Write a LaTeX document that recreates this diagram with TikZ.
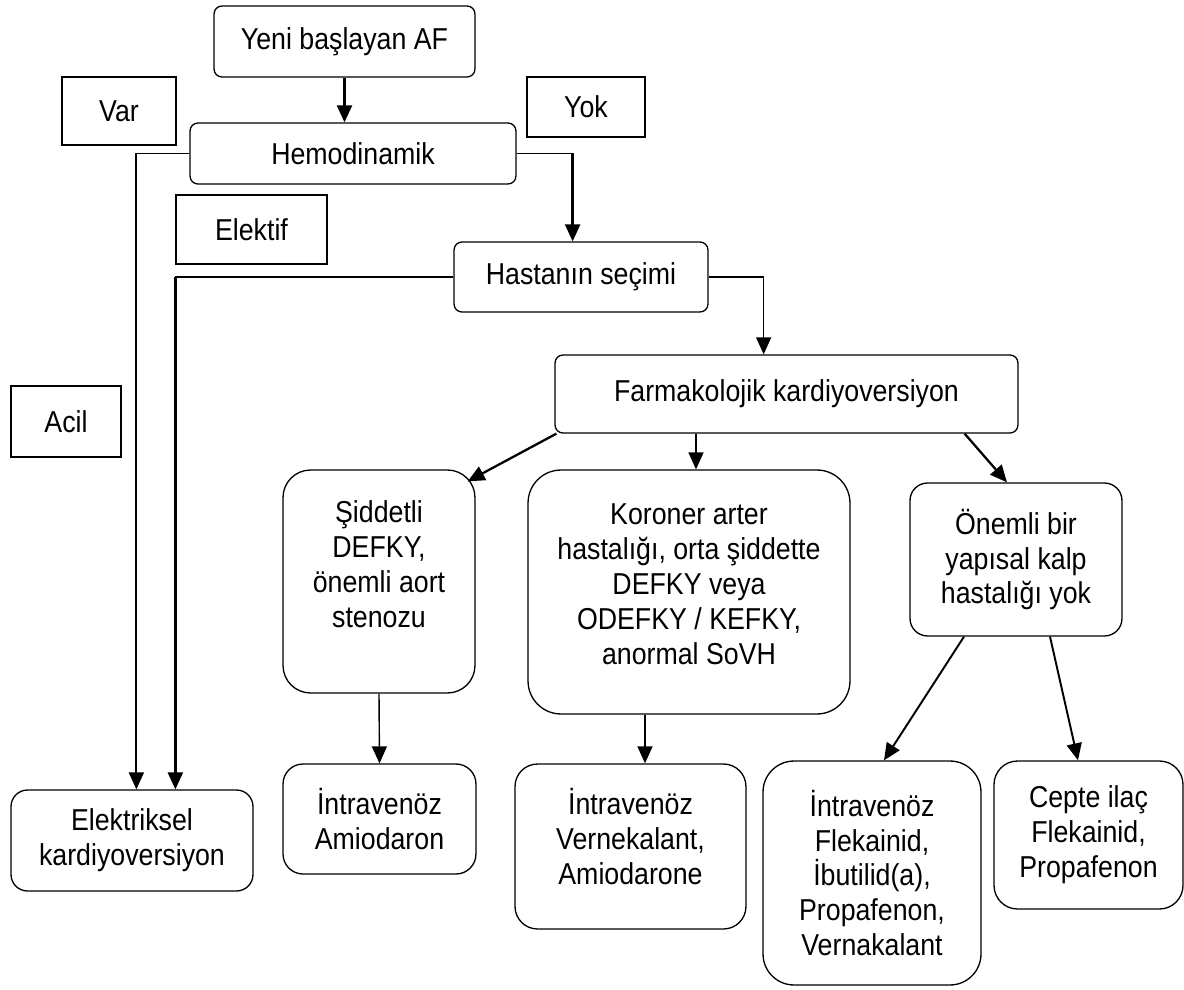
\documentclass[tikz,border=0pt]{standalone}
\usepackage{fontspec}
\setmainfont{Liberation Sans}[FakeStretch=0.885]
\usetikzlibrary{arrows.meta,calc}

\begin{document}
\begin{tikzpicture}[x=0.02cm,y=-0.02cm,
	box/.style={draw,line width=0.75pt,align=center,inner sep=0pt,font=\fontsize{17.2pt}{19.9pt}\selectfont},
	rbox/.style={box,rounded corners=0.16cm},
	arr/.style={-{Triangle[width=0.3cm,length=0.34cm]},line width=1.3pt},
	arrm/.style={arr,line width=0.8pt},
	link/.style={line width=0.6pt}]
	\useasboundingbox (0,0) rectangle (1184,990);
	% decision part
	\node[rbox,minimum width=5.22cm,minimum height=1.42cm] (yeni) at (344.5,41.5) {Yeni başlayan AF};
	\node[box,minimum width=2.28cm,minimum height=1.36cm] (var) at (119,111) {Var};
	\node[box,minimum width=2.36cm,minimum height=1.2cm] (yok) at (586,107) {Yok};
	\node[rbox,minimum width=6.52cm,minimum height=1.22cm] (hemo) at (353,153.5) {Hemodinamik};
	\node[box,minimum width=3.02cm,minimum height=1.38cm] (elektif) at (251.5,229.5) {Elektif};
	\node[rbox,minimum width=5.08cm,minimum height=1.4cm] (hasta) at (581,277) {Hastanın seçimi};
	\node[rbox,minimum width=9.26cm,minimum height=1.56cm] (farma) at (786.5,394) {Farmakolojik kardiyoversiyon};
	\node[box,minimum width=2.2cm,minimum height=1.42cm] (acil) at (66,421.5) {Acil};
	% patient groups
	\node[box,rounded corners=0.55cm,minimum width=3.84cm,minimum height=4.46cm] (sid) at (379,581.5) {Şiddetli\\DEFKY,\\önemli aort\\stenozu\\ \mbox{}};
	\node[box,rounded corners=0.66cm,minimum width=6.44cm,minimum height=4.88cm] (kor) at (689,592) {Koroner arter\\hastalığı, orta şiddette\\DEFKY veya\\ODEFKY / KEFKY,\\anormal SoVH\\[-11pt] \mbox{}};
	\node[box,rounded corners=0.35cm,minimum width=4.24cm,minimum height=3.06cm] (onem) at (1016,559.5) {Önemli bir\\yapısal kalp\\hastalığı yok};
	% treatments
	\node[box,rounded corners=0.33cm,minimum width=4.84cm,minimum height=2.02cm] (elek) at (132,840.5) {Elektriksel\\kardiyoversiyon};
	\node[box,rounded corners=0.4cm,minimum width=3.86cm,minimum height=2.2cm] (amio) at (379.5,819) {İntravenöz\\Amiodaron};
	\node[box,rounded corners=0.45cm,minimum width=4.62cm,minimum height=3.3cm] (vern) at (630.5,846.5) {İntravenöz\\Vernekalant,\\Amiodarone\\[-8.5pt] \mbox{}};
	\node[box,rounded corners=0.62cm,minimum width=4.36cm,minimum height=4.48cm] (flek) at (872,873) {İntravenöz\\Flekainid,\\İbutilid(a),\\Propafenon,\\Vernakalant};
	\node[box,rounded corners=0.47cm,minimum width=3.78cm,minimum height=2.96cm] (cepte) at (1088.5,835) {Cepte ilaç\\Flekainid,\\Propafenon};
	% bends
	\coordinate (vb) at ($(hemo.west)+(-53,0)$);
	\coordinate (yb) at ($(hemo.east)+(56,0)$);
	\coordinate (eb) at ($(hasta.west)+(-278,0)$);
	\coordinate (hb) at ($(hasta.east)+(55,0)$);
	\coordinate (fk) at ($(farma.south)+(-90.5,0)$);
	\coordinate (kv) at ($(kor.south)+(-44,0)$);
	% connectors
	\draw[arr] (yeni.south) -- (yeni.south |- hemo.north);
	\draw[link] (hemo.west) -- (vb);
	\draw[arr,line width=1.1pt] (vb) -- (vb |- elek.north);
	\draw[link] (hemo.east) -- (yb);
	\draw[arr] (yb) -- (yb |- hasta.north);
	\draw[link] (hasta.west) -- (eb);
	\draw[arr,line width=1.4pt] (eb) -- (eb |- elek.north);
	\draw[link] (hasta.east) -- (hb);
	\draw[arrm] (hb) -- (hb |- farma.north);
	\draw[arr] ($(farma.south west)+(2,0)$) -- ($(sid.north east)+(-8,12)$);
	\draw[arrm] (fk) -- (fk |- kor.north);
	\draw[arr] ($(farma.south east)+(-54,0)$) -- ($(onem.north)+(-9,0)$);
	\draw[arrm] (sid.south) -- (amio.north);
	\draw[arrm] (kv) -- (kv |- vern.north);
	\draw[arr,line width=1.1pt] ($(onem.south)+(-52,0)$) -- ($(flek.north)+(12,0)$);
	\draw[arr,line width=1.1pt] ($(onem.south)+(34,0)$) -- ($(cepte.north)+(-10.5,0)$);
\end{tikzpicture}
\end{document}
